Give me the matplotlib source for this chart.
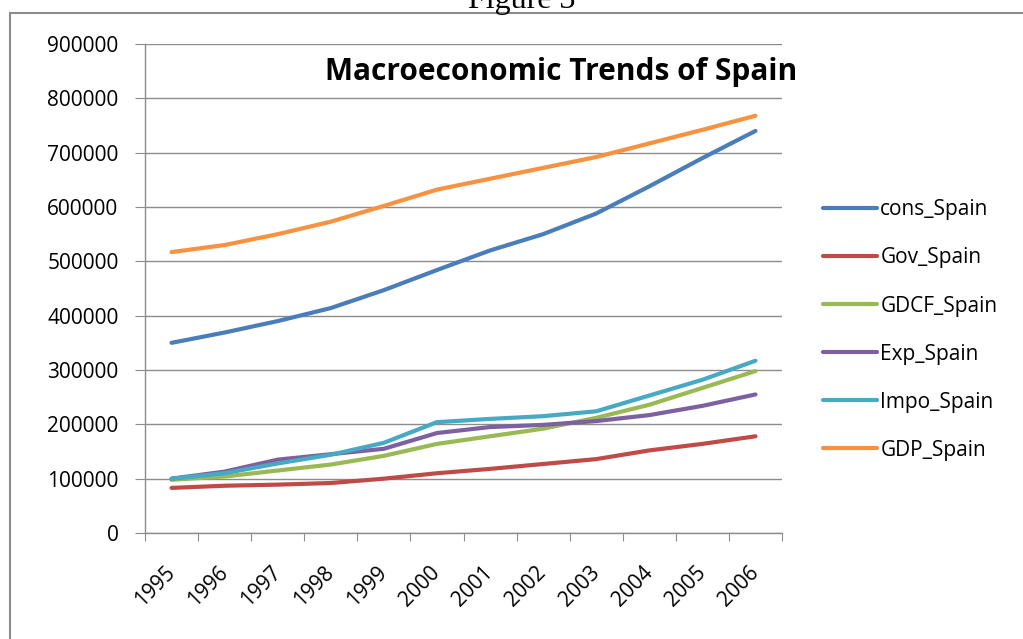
import matplotlib
matplotlib.use('Agg')
import matplotlib.pyplot as plt
from matplotlib.patches import Rectangle


# Categories and series
years = ['1995', '1996', '1997', '1998', '1999', '2000',
         '2001', '2002', '2003', '2004', '2005', '2006']

cons_spain = [350000, 369000, 390000, 414000, 447000, 484000,
              520000, 550000, 588000, 638000, 690000, 740000]
gov_spain = [83000, 87000, 89000, 92000, 100000, 110000,
             118000, 127000, 136000, 152000, 164000, 178000]
gdcf_spain = [98000, 104000, 115000, 126000, 142000, 164000,
              178000, 192000, 212000, 236000, 267000, 298000]
exp_spain = [100000, 113000, 135000, 145000, 155000, 184000,
             195000, 199000, 206000, 217000, 234000, 255000]
impo_spain = [100000, 110000, 128000, 144000, 166000, 204000,
              210000, 215000, 224000, 253000, 282000, 317000]
gdp_spain = [517000, 530000, 550000, 573000, 602000, 632000,
             652000, 672000, 692000, 717000, 742000, 768000]

series_names = ['cons_Spain', 'Gov_Spain', 'GDCF_Spain',
                'Exp_Spain', 'Impo_Spain', 'GDP_Spain']
series_values = [cons_spain, gov_spain, gdcf_spain,
                 exp_spain, impo_spain, gdp_spain]
colors = ['#4A7EBB', '#BE4B48', '#98B954', '#7D60A0', '#46AAC5', '#F69240']

y_ticks = list(range(0, 900001, 100000))

plt.rcParams['font.family'] = ['Open Sans', 'DejaVu Sans']
grey = '#8c8c8c'
fs = 15

fig = plt.figure(figsize=(10.23, 6.39), dpi=100)

# Chart border (Excel chart area), runs off right and bottom edges
fig.patches.append(Rectangle((10 / 1023, -0.05), 1.1, 0.05 + 1 - 13 / 639,
                             transform=fig.transFigure, fill=False,
                             edgecolor=grey, linewidth=1.5))

# Caption cut off at the top of the page
fig.text(522 / 1023, 1 - 8 / 639, 'Figure 3', ha='center', va='baseline',
         fontsize=23, family='Liberation Serif')

ax = fig.add_axes([145 / 1023, 1 - 533 / 639, (782 - 145) / 1023, (533 - 44) / 639])

x = list(range(len(years)))
for name, vals, c in zip(series_names, series_values, colors):
    ax.plot(x, vals, color=c, linewidth=3, label=name, solid_capstyle='round')

ax.set_xlim(-0.5, len(years) - 0.5)
ax.set_ylim(0, 900000)
ax.set_yticks(y_ticks)
ax.set_yticklabels([str(v) for v in y_ticks])
ax.yaxis.grid(True, color=grey, linewidth=1)
ax.set_axisbelow(True)

# category boundaries get the tick marks, labels sit at the centres
ax.set_xticks([i - 0.5 for i in range(len(years) + 1)])
ax.set_xticklabels([])
ax.set_xticks(x, minor=True)
ax.set_xticklabels(years, minor=True, rotation=45, ha='right', va='center',
                   rotation_mode='anchor', fontsize=fs)
ax.tick_params(axis='x', which='minor', length=0, pad=26)
ax.tick_params(axis='x', which='major', length=6, color=grey, direction='out')
ax.tick_params(axis='y', length=7, color=grey, labelsize=fs, pad=12)

for s in ['top', 'right']:
    ax.spines[s].set_visible(False)
for s in ['left', 'bottom']:
    ax.spines[s].set_color(grey)
    ax.spines[s].set_linewidth(1)

ax.text(0.654, 0.942, 'Macroeconomic Trends of Spain', transform=ax.transAxes,
        ha='center', va='center', fontsize=21.5, fontweight='bold')

ax.legend(loc='center left', bbox_to_anchor=(1.035, 0.415), frameon=False,
          fontsize=fs, handlelength=2.6, handletextpad=0.15, labelspacing=1.3)

fig.savefig('out.png', dpi=100)
